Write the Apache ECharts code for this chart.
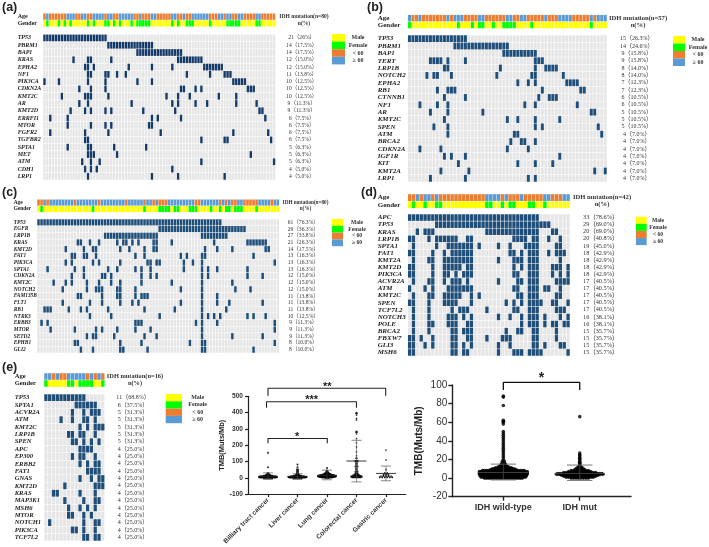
<!DOCTYPE html>
<html><head><meta charset="utf-8">
<style>html,body{margin:0;padding:0;background:#fff}#c{width:709px;height:547px;filter:blur(0.35px)}</style>
<script src="https://cdn.jsdelivr.net/npm/echarts@6/dist/echarts.min.js"></script>
</head><body><div id="c"></div>
<script>
// ---------- panel (a) ----------
const genesA=['TP53','PBRM1','BAP1','KRAS','EPHA2','NF1','PIK3CA','CDKN2A','KMT2C','AR','KMT2D','ERRFI1','MTOR','FGFR2','TGFBR2','SPTA1','MET','ATM','CDH1','LRP1'];
const countsA=['21（26%）','14（17.5%）','14（17.5%）','12（15.0%）','12（15.0%）','11（13.8%）','10（12.5%）','10（12.5%）','10（12.5%）','9（11.3%）','9（11.3%）','6（7.5%）','6（7.5%）','6（7.5%）','6（7.5%）','5（6.3%）','5（6.3%）','5（6.3%）','4（5.0%）','4（5.0%）'];
const mutsA=['0-21','22-37','32-47','10 15-16 23 46-54','14 15 17 29 37 44 55-61','15-16 21-22 25 28 49 57 62-64','0 5 15 21 32 37 65-69','12 16 21 47-48 52 54 70-72','6 14-16 22 42 46 50 60 66','12 15 30 44 46 52 56 66 73','9 14 16 21 23 34 45 74-75','2 8 37 39 47 76','8 16 21 23 36-37','2 14 22 40 65 77','14-15 54 62-63 78','8 15-16 24 35','15-17 25 71','13 16 19 54 79','14 16 18 44','15 37 46 62'];
const ageOldA='1 8-10 13 14 17-20 22-23 26-30 33 37-38 44-45 48 51-56 60-61 63-64 67-68 73-74';
const femaleA='1 5 7 9 15 17 21-22 24 26 30 32-36 44 46 49-51 57 63-67 73-74';
// ---------- panel (b) ----------
const genesB=['TP53','PBRM1','BAP1','TERT','LRP1B','NOTCH2','EPHA2','RB1','CTNNB1','NF1','AR','KMT2C','SPEN','ATM','BRCA2','CDKN2A','IGF1R','KIT','KMT2A','LRP1'];
const countsB=['15（26.3%）','14（24.6%）','9（15.8%）','9（15.8%）','8（14.0%）','8（14.0%）','7（12.3%）','7（12.3%）','6（10.5%）','6（10.5%）','5（10.5%）','5（10.5%）','5（10.5%）','4（7.0%）','4（7.0%）','4（7.0%）','4（7.0%）','4（7.0%）','4（7.0%）','4（7.0%）'];
const mutsB=['0-16','13-28','27-36','6-9 11 16 36-38','10-11 26 36 39-42','5 7-8 12 25 35-36 44','31 34 36 45-48','8 11-13 38 49-50','10 16 37 40-42','3 8 11 33 36 48','6 11 21 52-53','10 28 31 36 43','7 11 36 38 54','11 30-31 55','29 32-33 36','3 9 28 34','10 12 16 43','14 31 36 41','9 17 53 56','6 16 34 36'];
const ageOldB='0 3 11 13-15 20-21 28-29 32-33 39 43-46 52 54-56';
const femaleB='0 14 18 20-21 24 27-30 35 52';
// ---------- panel (c) ----------
const genesC=['TP53','EGFR','LRP1B','KRAS','KMT2D','FAT1','PIK3CA','SPTA1','CDKN2A','KMT2C','NOTCH2','FAM135B','FLT1','RB1','NTRK3','ERBB3','MTOR','SETD2','EPHB1','GLI2'];
const countsC=['61（76.3%）','29（36.3%）','27（33.8%）','21（26.3%）','14（17.5%）','13（16.3%）','13（16.3%）','13（16.3%）','12（15.0%）','12（15.0%）','12（15.0%）','11（13.8%）','11（13.8%）','11（13.8%）','10（12.5%）','9（11.3%）','9（11.3%）','9（11.3%）','8（10.0%）','8（10.0%）'];
const mutsC=['0-60','40-68','22-39 54-62','13-14 17 20 26 28-29 31 33 38-39 44 58 69-75','9 15 18-19 27 30 35 38-39 55 59 64 75-76','11-12 15-16 19 32 35 47 49 54-55 71','9 11 18 20 27 36-37 39-40 48 51 54 78','3 12 15 23 26 32 34 37 48 54 56 59 69','11 15 21-22 24 34 37 39 54 56 69 74','5 9 11 16 20 24 27 34 44 54 64','8 16 19-20 21 26-27 32 47 54 65 70','13-14 21 26-27 32 34-36 54 59','8 17 21 27 31 33 47 54 59 63 74','2-4 10 14 16 23 35 45 54 62','17 24 40 54 56 58 60 69 71 75','1 3 32-34 52 54 59 78','4 12 19 21 26 32 37 54 78','16 18-19 25 35 39 54 64 74','12-13 27 34 50 54-55 78','14 18 27-28 36 54-55 71'];
const ageYoungC='0 1 3 12 20 29 35 38 40-42 52-53 60 62 64-65 68-72 77';
const femaleC='1 18 35 40-43 45-46 50-52 57 60 62-63 65-67 72';
// ---------- panel (d) ----------
const genesD=['APC','TP53','KRAS','LRP1B','SPTA1','FAT1','KMT2A','KMT2D','PIK3CA','ACVR2A','ATM','KMT2C','SPEN','TCF7L2','NOTCH3','POLE','BRCA2','FBXW7','GLI3','MSH6'];
const countsD=['33（78.6%）','29（69.0%）','20（69.0%）','20（40.8%）','19（45.0%）','18（42.9%）','18（42.9%）','18（42.9%）','18（42.9%）','17（40.5%）','17（40.5%）','17（40.5%）','17（40.5%）','17（40.5%）','16（38.1%）','16（38.1%）','15（35.7%）','15（35.7%）','15（35.7%）','15（35.7%）'];
const mutsD=['0-33','7-36','2 4-6 20-33 37-38','0-1 5 7-12 15-16 27-30 32-33 36 39','1 7 10 11-16 18 23 26 30-33 38-39','0-1 6 9 11-16 26-27 29 31-33 36 38-40','1 5-6 9-10 11-16 23 27-29 31-33 39','0-1 6 9-11 12-13 15-16 27 29 31-33 37-39 41','0-1 6 9-10 12 14-16 27-28 31-33 37 39 41','1 5-6 9 11-13 15 23 28-29 31-33 38-41','0 4 6 10-16 27-28 31-33 35-36 39','1 5-6 9-13 16 18 28-29 31-33 38-39','0-1 5 9-12 16 25 27 29 31-34 37-38 41','1 5 11 13-15 20 27-28 31-33 38-40','1 5 10-12 14 16 23 26 29 31-33 35 39 41','1 5-6 10-12 15-16 29 31 32-33 35 37-38 40 41','1 5 11-12 14-16 25 28-29 32-33 38','0-1 3 6 11-12 15-16 20 24-26 32-33 38','0-1 4 6 11-12 14 16 23 26 32-33 35 39-40','0-1 11-12 14-15 23 27-29 31-34 41'];
const ageOldD='2 4-5 7 20-23 25 29 35-36 40-41';
const femaleD='1 4 7-8 20-21 24 26-27 31-32 35';
// ---------- panel (e) ----------
const genesE=['TP53','SPTA1','ACVR2A','ATM','KMT2C','LRP1B','SPEN','APC','EP300','ERBB2','FAT1','GNAS','KMT2D','KRAS','MAP3K1','MSH6','MTOR','NOTCH1','PIK3CA','TCF7L2'];
const countsE=['11（68.8%）','6（37.5%）','5（31.3%）','5（31.3%）','5（31.3%）','5（31.3%）','5（31.3%）','4（25.0%）','4（25.0%）','4（25.0%）','4（25.0%）','4（25.0%）','4（25.0%）','4（25.0%）','4（25.0%）','4（25.0%）','4（25.0%）','4（25.0%）','4（25.0%）','4（25.0%）'];
const mutsE=['0-10','8-13','7 10 12-14','4 7 10-11 13','9 11 13-15','6-7 9-10 13','7-8 10 12 14','9-12','7 9-10 13','9 11 13-14','11-14','9 12 14-15','5 13-15','2-3 9 13','5 10 13-14','6 9 11 13','6-7 10 12','1 10 13-14','7-8 10 13','10-11 13-14'];
const ageOldE='0-1 3 6-10 12 14';
const femaleE='0 6-7 9-12 15';
// ---------- panel (f) ----------
const tumourTypes=['Billiary tract cancer','Liver cancer','Lung cancer','Colorectal cancer','Gastric cancer'];
const fLevels=[[153,65,30,25,20,16,13,10,7,4,2,0],[82,65,50,40,30,24,20,16,13,10,7,4,2,0],[60,45,38,32,28,24,20,17,14,11,8,5,2,0],[400,395,385,365,355,285,280,270,240,215,190,160,135,120,105,100,90,80,70,60,50,40,30,25,20,15,10,5,2],[170,110,50,30,25,20,15,10,5,2]];
const fCounts=[[1,1,1,2,3,5,8,14,16,16,14,8],[1,1,2,2,2,2,3,4,7,12,16,16,14,8],[1,1,2,3,4,6,8,12,14,16,16,14,10,4],[1,2,1,1,1,1,2,1,1,1,1,1,1,2,3,3,2,2,3,2,2,3,3,3,5,7,10,10,8],[1,1,1,2,2,3,3,5,6,6]];
const fMean=[8,8,15,103,27];
const fUpper=[30,25,47,230,72];
const fLower=[-10,-10,-12,-25,-18];
// ---------- panel (g) ----------
const idhGroups=['IDH wild-type','IDH mut'];
const gLevels=[[88,87,78,62,61,60,58,50,48,46,44,42,40,38,36,34,32,30,28,26,24,22,20,18,16,15,14,13,12,11,10,9,8,7,6,5,4,3,2,1,0],[66,27,25,24,22,21,20,18,17,16,15,14,13,12,11,10,9,8,7,6,5,4,3,2,1,0]];
const gCounts=[[1,1,1,1,1,1,1,1,1,1,1,1,1,1,1,1,1,1,1,1,1,1,1,2,2,3,3,4,6,9,12,14,22,25,25,25,25,24,24,23,20],[1,1,1,1,1,1,1,1,1,1,1,1,1,2,3,4,5,8,10,14,19,20,16,14,12,8]];
const gMean=[6,5];
const gUpper=[15,14];
const gLower=[-2,-2.5];
// ---------- brackets ----------
const fBrackets=[[0,3.99,549,504],[-0.05,3.0,467,430],[0,2.01,241,212]];
const fStars=[[2.01,560,'**'],[1.48,479,'***'],[0.99,252,'*']];
const gBrackets=[[0,1,102.8,94.5]];
const gStars=[[0.5,107,'*']];
// ---------- layout / styles ----------
const panelLayouts=[
 {name:'(a)',letter:[2,1],genes:genesA,counts:countsA,muts:mutsA,age:ageOldA,fem:femaleA,n:80,head:'IDH mutation(n=80)',x:43,w:232.5,top:34.3,h:145.7,atop:13.3,ah:13.4,lx:17.7,cx:301.7,hx:304,gf:6,cf:5.6,hf:5.6,navy:'#163a68',lg:[332,13,34,7.6,358,6]},
 {name:'(b)',letter:[367,1],genes:genesB,counts:countsB,muts:mutsB,age:ageOldB,fem:femaleB,n:57,head:'IDH mutation(n=57)',x:407.7,w:199.3,top:35,h:147,atop:14.7,ah:13.8,lx:377.7,cx:636.7,hx:638,gf:7,cf:6,hf:6.6,navy:'#1f4e79',lg:[673,12,36,7.5,698,6]},
 {name:'(c)',letter:[2,186],genes:genesC,counts:countsC,muts:mutsC,ageY:ageYoungC,fem:femaleC,n:80,head:'IDH mutation(n=80)',x:37,w:242.3,top:219,h:134,atop:199.3,ah:13,lx:13.7,cx:303.3,hx:305.5,gf:5.4,cf:5.6,hf:5.2,navy:'#1f4e79',lg:[332,11,219,6.8,357,5.6]},
 {name:'(d)',letter:[361,186],genes:genesD,counts:countsD,muts:mutsD,age:ageOldD,fem:femaleD,n:42,head:'IDH mutation(n=42)',x:407.7,w:162.3,top:214,h:142,atop:194,ah:14.3,lx:377.7,cx:600.7,hx:602,gf:7,cf:6.3,hf:6.6,navy:'#1f4e79',lg:[636,10.7,216.7,7.1,658,5.6]},
 {name:'(e)',letter:[2,361],genes:genesE,counts:countsE,muts:mutsE,age:ageOldE,fem:femaleE,n:16,head:'IDH mutation(n=16)',x:44,w:60.7,top:394,h:147,atop:373,ah:14,lx:14.7,cx:133,hx:135,gf:6.6,cf:6,hf:6.4,navy:'#1f4e79',lg:[165.7,16.3,394,7.3,197.7,6]}
];
const annotationColors={2:'#ffff00',3:'#00ff00',4:'#ed7d31',5:'#5b9bd5'};
const SERIF='"Liberation Serif","Noto Sans CJK SC",serif';
const SANS='"Liberation Sans",Arial,sans-serif';
function parseRuns(s){const o=new Set();s.trim().split(/\s+/).forEach(t=>{const p=t.split('-').map(Number);for(let i=p[0];i<=p[p.length-1];i++)o.add(i);});return o;}
function cellSeries(xi,yi,data,colors,gap){return{type:'custom',xAxisIndex:xi,yAxisIndex:yi,data,silent:true,progressive:0,animation:false,clip:false,
 renderItem(params,api){const c=api.coord([api.value(0),api.value(1)]),s=api.size([1,1]);return{type:'rect',shape:{x:c[0]-s[0]/2+gap/2,y:c[1]-s[1]/2+gap/2,width:s[0]-gap,height:s[1]-gap},style:{fill:colors[api.value(2)]}};}};}
const grid=[],xAxis=[],yAxis=[],series=[],graphic=[];
function leftAxis(gi,labels,p,extra){yAxis.push(Object.assign({type:'category',gridIndex:gi,data:labels,inverse:true,axisLine:{show:false},axisTick:{show:false},splitLine:{show:false},
 axisLabel:{interval:0,align:'left',margin:p.x-p.lx,fontFamily:SERIF,fontWeight:'bold',fontStyle:'italic',fontSize:p.gf,color:'#222'}},extra||{}));}
function rightAxis(gi,labels,center,fs,bold,p){yAxis.push({type:'category',position:'right',gridIndex:gi,data:labels,inverse:true,axisLine:{show:false},axisTick:{show:false},splitLine:{show:false},
 axisLabel:{interval:0,align:'center',margin:center-(p.x+p.w),fontFamily:SERIF,fontWeight:bold?'bold':'normal',fontSize:fs,color:'#333'}});}
panelLayouts.forEach(p=>{
 const cols=Array.from({length:p.n},(_,i)=>i);
 let gi=grid.length;
 grid.push({left:p.x,width:p.w,top:p.top,height:p.h});
 xAxis.push({type:'category',gridIndex:gi,data:cols,show:false});
 let yi=yAxis.length;
 leftAxis(gi,p.genes,p);
 rightAxis(gi,p.counts,p.cx,p.cf,false,p);
 const cells=[];
 p.muts.forEach((m,r)=>{const set=parseRuns(m);cols.forEach(c=>cells.push([c,r,set.has(c)?1:0]));});
 series.push(cellSeries(gi,yi,cells,{0:'#e7e6e6',1:p.navy},0.5));
 gi=grid.length;
 grid.push({left:p.x,width:p.w,top:p.atop,height:p.ah});
 xAxis.push({type:'category',gridIndex:gi,data:cols,show:false});
 yi=yAxis.length;
 leftAxis(gi,['Age','Gender'],p,{});
 yAxis[yi].axisLabel.fontStyle='normal';
 rightAxis(gi,[p.head,'n(%)'],p.hx,p.hf,true,p);
 const old=p.age?parseRuns(p.age):null,young=p.ageY?parseRuns(p.ageY):null,fem=parseRuns(p.fem);
 const ann=[];
 cols.forEach(c=>{const isOld=old?old.has(c):!young.has(c);ann.push([c,0,isOld?5:4]);ann.push([c,1,fem.has(c)?3:2]);});
 series.push(cellSeries(gi,yi,ann,annotationColors,0.4));
 const [lx,lw,ly,lh,tx,tf]=p.lg;
 [['#ffff00','Male'],['#00ff00','Female'],['#ed7d31','< 60'],['#5b9bd5','≥ 60']].forEach((e,i)=>{
  graphic.push({type:'rect',silent:true,shape:{x:lx,y:ly+i*lh,width:lw,height:lh},style:{fill:e[0]}});
  graphic.push({type:'text',silent:true,x:tx,y:ly+i*lh+lh/2,style:{text:e[1],fill:'#333',font:'bold '+tf+'px "Liberation Serif"',textAlign:'center',textVerticalAlign:'middle'}});
 });
 graphic.push({type:'text',silent:true,x:p.letter[0],y:p.letter[1],style:{text:p.name,fill:'#222',font:'bold 12.5px "Liberation Sans"'}});
});
function swarm(levels,counts,center,step){const pts=[];levels.forEach((v,i)=>{const n=counts[i];for(let k=0;k<n;k++)pts.push([center+(k-(n-1)/2)*step,v]);});return pts;}
function seg(xi,yi,pts,w,color){series.push({type:'line',xAxisIndex:xi,yAxisIndex:yi,data:pts,symbol:'none',silent:true,animation:false,clip:false,lineStyle:{width:w,color},z:5});}
function stars(xi,yi,data,fs){series.push({type:'scatter',xAxisIndex:xi,yAxisIndex:yi,data,symbol:'circle',symbolSize:1,itemStyle:{opacity:0},silent:true,animation:false,clip:false,z:6,
 label:{show:true,position:'inside',opacity:1,formatter:q=>q.value[2],fontFamily:SANS,fontSize:fs,fontWeight:'bold',color:'#222'}});}
function statAxes(l,r,t,b,xmin,xmax,names,ymin,ymax,yint,o){
 const gi=grid.length;
 grid.push({left:l,right:r,top:t,bottom:b});
 const ticks=names.map((_,i)=>i);
 xAxis.push({type:'value',gridIndex:gi,min:xmin,max:xmax,splitLine:{show:false},
  axisLine:{onZero:false,lineStyle:{color:'#222',width:o.lw}},
  axisTick:{customValues:ticks,length:o.tick,lineStyle:{color:'#222',width:o.lw}},
  axisLabel:Object.assign({customValues:ticks,formatter:v=>names[Math.round(v)],fontFamily:SANS,fontSize:o.xf,fontWeight:'bold',color:'#333',margin:o.xm,hideOverlap:false},o.xLabel||{})});
 yAxis.push({type:'value',gridIndex:gi,min:ymin,max:ymax,interval:yint,splitLine:{show:false},
  name:'TMB(Muts/Mb)',nameLocation:'middle',nameGap:o.ng,nameTextStyle:{fontFamily:SANS,fontSize:o.nf,fontWeight:'bold',color:'#222'},
  axisLine:{show:true,onZero:false,lineStyle:{color:'#222',width:o.lw}},
  axisTick:{show:true,length:o.tick,lineStyle:{color:'#222',width:o.lw}},
  axisLabel:{fontFamily:SANS,fontSize:o.yf,fontWeight:o.yw,color:'#333',margin:o.ym}});
 return {xi:xAxis.length-1,yi:yAxis.length-1};
}
const F=statAxes(248,303.3,396.3,52.7,-0.678,4.668,tumourTypes,-100,500,100,{lw:1.2,tick:3,xf:6.6,xm:5,xLabel:{rotate:45},ng:21,nf:7.4,yf:6.6,yw:'bold',ym:5});
tumourTypes.forEach((_,i)=>{
 series.push({type:'scatter',xAxisIndex:F.xi,yAxisIndex:F.yi,data:swarm(fLevels[i],fCounts[i],i,i===4?0.085:0.04),symbolSize:i>=3?1.7:2.1,itemStyle:{color:'#000'},silent:true,animation:false,z:3});
 seg(F.xi,F.yi,[[i,fLower[i]],[i,fUpper[i]]],0.6,'#555');
 seg(F.xi,F.yi,[[i-.17,fUpper[i]],[i+.17,fUpper[i]]],0.7,'#555');
 seg(F.xi,F.yi,[[i-.17,fLower[i]],[i+.17,fLower[i]]],0.7,'#555');
 seg(F.xi,F.yi,[[i-.34,fMean[i]],[i+.34,fMean[i]]],0.9,'#222');
});
fBrackets.forEach(b=>seg(F.xi,F.yi,[[b[0],b[3]],[b[0],b[2]],[b[1],b[2]],[b[1],b[3]]],1.1,'#222'));
stars(F.xi,F.yi,fStars,11);
const G=statAxes(452.3,78,385,50.3,-0.668,1.671,idhGroups,-20,100,20,{lw:1.4,tick:4,xf:9,xm:6,ng:28,nf:10,yf:10,yw:'normal',ym:5});
idhGroups.forEach((_,i)=>{
 series.push({type:'scatter',xAxisIndex:G.xi,yAxisIndex:G.yi,data:swarm(gLevels[i],gCounts[i],i,i===0?0.026:0.032),symbolSize:3.6,itemStyle:{color:'#000'},silent:true,animation:false,z:3});
 seg(G.xi,G.yi,[[i,gLower[i]],[i,gUpper[i]]],0.7,'#555');
 seg(G.xi,G.yi,[[i-.166,gUpper[i]],[i+.166,gUpper[i]]],0.9,'#666');
 seg(G.xi,G.yi,[[i-.166,gLower[i]],[i+.166,gLower[i]]],0.9,'#666');
 seg(G.xi,G.yi,[[i-.33,gMean[i]],[i+.33,gMean[i]]],0.9,'#444');
});
gBrackets.forEach(b=>seg(G.xi,G.yi,[[b[0],b[3]],[b[0],b[2]],[b[1],b[2]],[b[1],b[3]]],1.3,'#111'));
stars(G.xi,G.yi,gStars,14);
const chart=echarts.init(document.getElementById('c'),null,{renderer:'canvas'});
chart.setOption({animation:false,backgroundColor:'#fff',tooltip:{show:false},grid,xAxis,yAxis,series,graphic});
</script></body></html>
